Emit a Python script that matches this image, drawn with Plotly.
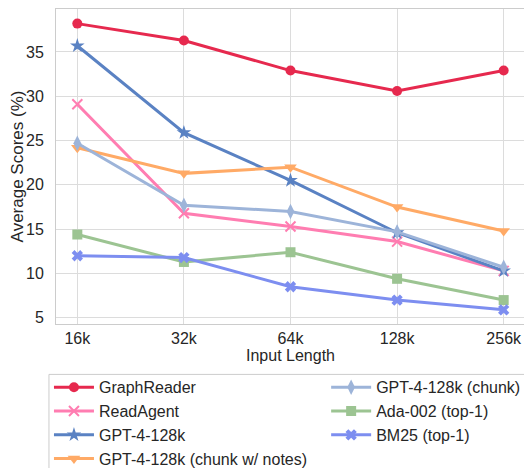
import plotly.graph_objects as go

x_labels = ["16k", "32k", "64k", "128k", "256k"]

graphreader = [38.2, 36.3, 32.9, 30.6, 32.9]
readagent = [29.1, 16.8, 15.3, 13.6, 10.3]
gpt4_128k = [35.7, 25.9, 20.5, 14.6, 10.3]
gpt4_chunk_notes = [24.2, 21.3, 22.0, 17.5, 14.8]
gpt4_chunk = [24.7, 17.7, 17.0, 14.7, 10.7]
ada_top1 = [14.4, 11.3, 12.4, 9.4, 7.0]
bm25_top1 = [12.0, 11.8, 8.5, 7.0, 5.9]

series = [
    ("GraphReader", graphreader, "#e6294e", "circle", 10, "legend"),
    ("ReadAgent", readagent, "#ff7db1", "x-thin-open", 10, "legend"),
    ("GPT-4-128k", gpt4_128k, "#5a82c3", "star", 11, "legend"),
    ("GPT-4-128k (chunk w/ notes)", gpt4_chunk_notes, "#ffaa66", "triangle-down", 11, "legend"),
    ("GPT-4-128k (chunk)", gpt4_chunk, "#9db4d9", "diamond-tall", 11, "legend2"),
    ("Ada-002 (top-1)", ada_top1, "#9cc492", "square", 10, "legend2"),
    ("BM25 (top-1)", bm25_top1, "#7d8ef0", "x", 10, "legend2"),
]

fig = go.Figure()
xs = list(range(len(x_labels)))
for name, vals, color, sym, size, leg in series:
    marker = dict(symbol=sym, size=size, color=color)
    if sym == "x-thin-open":
        marker["line"] = dict(color=color, width=2)
    fig.add_trace(go.Scatter(
        x=xs, y=vals, name=name, mode="lines+markers",
        line=dict(color=color, width=3), marker=marker, legend=leg,
    ))

leg_common = dict(
    orientation="v", y=-0.147, xanchor="left", yanchor="top",
    traceorder="normal", borderwidth=0, bgcolor="rgba(0,0,0,0)",
    font=dict(size=16), itemwidth=40,
)

fig.update_layout(
    width=524, height=460,
    margin=dict(l=48, r=7, t=1, b=144, autoexpand=False),
    plot_bgcolor="white", paper_bgcolor="white",
    font=dict(family="Liberation Sans, Arial, sans-serif", size=16, color="#262626"),
    xaxis=dict(
        tickmode="array", tickvals=xs, ticktext=x_labels,
        range=[-0.2, 4.2], showgrid=True, gridcolor="#dcdcdc", gridwidth=1,
        showline=True, linecolor="#cccccc", linewidth=1, mirror=True,
        zeroline=False, ticks="", ticklabelstandoff=0, automargin=False,
        title=dict(text="Input Length", font=dict(size=16), standoff=2),
        tickfont=dict(size=16),
    ),
    yaxis=dict(
        range=[4.3, 39.85], tickvals=[5, 10, 15, 20, 25, 30, 35],
        showgrid=True, gridcolor="#dcdcdc", gridwidth=1,
        showline=True, linecolor="#cccccc", linewidth=1, mirror=True,
        zeroline=False, ticks="", ticklabelstandoff=8, automargin=False,
        title=dict(text="Average Scores (%)", font=dict(size=17)),
        tickfont=dict(size=16),
    ),
    legend=dict(x=-0.015, **leg_common),
    legend2=dict(x=0.576, **leg_common),
    shapes=[dict(
        type="rect", xref="paper", yref="paper",
        x0=-0.015, x1=1.3, y0=-0.16, y1=-0.6,
        line=dict(color="#cccccc", width=1), fillcolor="rgba(0,0,0,0)",
        layer="below",
    )],
)

fig.write_html("out.html")
